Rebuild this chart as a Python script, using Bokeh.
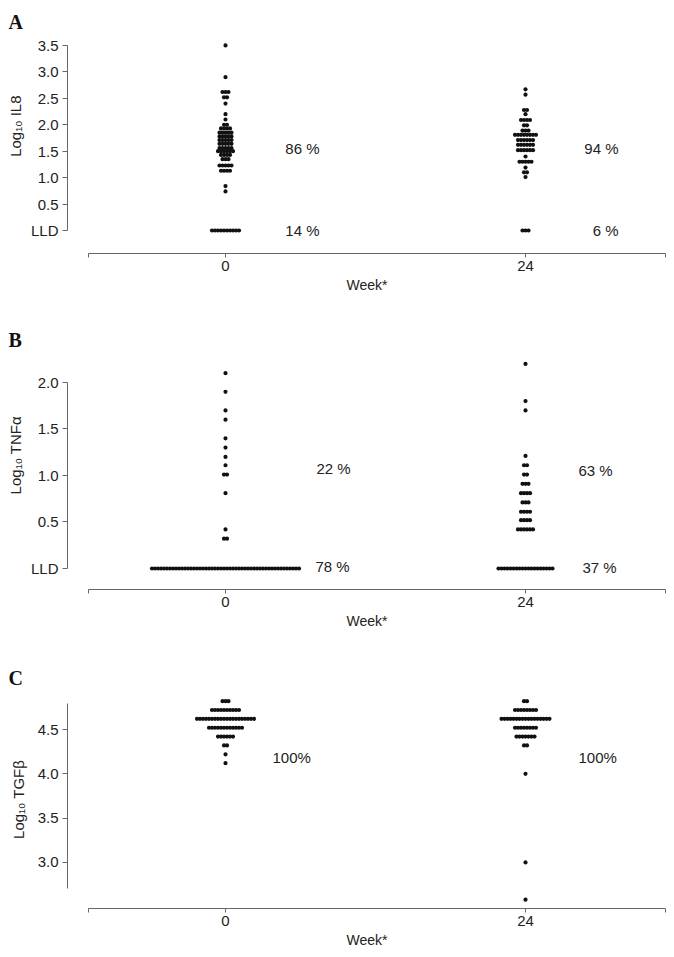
import numpy as np
from bokeh.plotting import figure
from bokeh.models import FixedTicker, Label, Range1d, PrintfTickFormatter
from bokeh.layouts import column
from bokeh.embed import file_html
from bokeh.resources import INLINE

# ---------------- data ----------------
weeks = [0, 24]
week_labels = ["0", "24"]

# Panel A : Log10 IL8 (value levels and number of patients at each level); 0 = LLD
il8_w0_values = [3.5, 2.9, 2.62, 2.52, 2.4, 2.2, 2.1, 2.0, 1.93, 1.85, 1.78, 1.71, 1.64,
                 1.56, 1.5, 1.43, 1.35, 1.23, 1.13, 0.84, 0.74, 0.0]
il8_w0_counts = [1, 1, 3, 2, 1, 1, 1, 2, 4, 5, 5, 5, 5, 5, 6, 4, 3, 5, 4, 1, 1, 10]
il8_w24_values = [2.67, 2.57, 2.28, 2.2, 2.09, 1.99, 1.89, 1.81, 1.71, 1.62, 1.52, 1.4,
                  1.3, 1.19, 1.1, 1.01, 0.0]
il8_w24_counts = [1, 1, 2, 1, 4, 2, 3, 8, 6, 6, 6, 1, 5, 1, 2, 1, 3]
il8_pct_w0 = ["86 %", "14 %"]
il8_pct_w24 = ["94 %", "6 %"]

# Panel B : Log10 TNFalpha
tnf_w0_values = [2.1, 1.9, 1.7, 1.6, 1.4, 1.3, 1.2, 1.11, 1.01, 0.81, 0.42, 0.32, 0.0]
tnf_w0_counts = [1, 1, 1, 1, 1, 1, 1, 1, 2, 1, 1, 2, 50]
tnf_w24_values = [2.2, 1.8, 1.7, 1.21, 1.11, 1.01, 0.91, 0.81, 0.71, 0.61, 0.52, 0.42, 0.0]
tnf_w24_counts = [1, 1, 1, 1, 2, 2, 3, 4, 3, 4, 4, 6, 19]
tnf_pct_w0 = ["22 %", "78 %"]
tnf_pct_w24 = ["63 %", "37 %"]

# Panel C : Log10 TGFbeta
tgf_w0_values = [4.82, 4.72, 4.62, 4.52, 4.42, 4.32, 4.22, 4.12]
tgf_w0_counts = [3, 10, 20, 12, 6, 2, 1, 1]
tgf_w24_values = [4.82, 4.72, 4.62, 4.52, 4.42, 4.32, 4.0, 3.0, 2.58]
tgf_w24_counts = [2, 8, 17, 8, 7, 2, 1, 1, 1]
tgf_pct_w0 = ["100%"]
tgf_pct_w24 = ["100%"]

# ---------------- layout constants ----------------
FONT = "Liberation Sans"
X_RANGE = (-12.64, 35.28)          # week axis frame span
X_BOUNDS = (-11.0, 35.2)
DOT_STEP = 0.24                    # horizontal step between dots (in week units)
FRAME_W = 599
LEFT = 67
PAD = "\u00a0"                     # padding used to nudge rotated axis labels


def swarm(center, values, counts):
    xs, ys = [], []
    for v, n in zip(values, counts):
        for i in range(n):
            xs.append(center + (i - (n - 1) / 2.0) * DOT_STEP)
            ys.append(v)
    return xs, ys


def make_panel(letter, title_standoff, ylab, ylab_standoff, y_range, y_bounds, y_ticks, y_over,
               groups, pct_texts, pct_pos, pct_align, top, fh, bottom):
    p = figure(frame_width=FRAME_W, frame_height=fh, min_border_left=LEFT, min_border_right=0,
               min_border_top=top, min_border_bottom=bottom, output_backend="svg",
               toolbar_location=None, x_range=Range1d(*X_RANGE), y_range=Range1d(*y_range))
    p.outline_line_color = None
    p.grid.visible = False
    p.background_fill_color = "white"
    p.border_fill_color = "white"

    # panel letter as title
    p.title.text = letter
    p.title.align = "left"
    p.title.offset = -LEFT + 8
    p.title.standoff = title_standoff
    p.title.text_font = "Liberation Serif"
    p.title.text_font_style = "bold"
    p.title.text_font_size = "20px"
    p.title.text_color = "#111111"

    for center, vals, cnts in groups:
        xs, ys = swarm(center, vals, cnts)
        p.scatter(xs, ys, size=4.2, color="#111111", line_width=0)

    # x axis
    xa = p.xaxis[0]
    xa.bounds = X_BOUNDS
    xa.ticker = FixedTicker(ticks=[X_BOUNDS[0]] + weeks + [X_BOUNDS[1]])
    over = {X_BOUNDS[0]: "", X_BOUNDS[1]: ""}
    for w, lab in zip(weeks, week_labels):
        over[w] = lab
    xa.major_label_overrides = over
    xa.axis_label = "Week*"
    xa.axis_label_text_font = FONT
    xa.axis_label_text_font_style = "normal"
    xa.axis_label_text_font_size = "14px"
    xa.axis_label_text_color = "#222222"
    xa.axis_label_standoff = 3
    xa.major_label_standoff = 3
    xa.major_label_text_font = FONT
    xa.major_label_text_font_size = "15px"
    xa.major_label_text_color = "#222222"
    xa.axis_line_color = "#666666"
    xa.major_tick_line_color = "#666666"
    xa.major_tick_out = 4
    xa.major_tick_in = 0
    xa.minor_tick_line_color = None

    # y axis
    ya = p.yaxis[0]
    ya.bounds = y_bounds
    ya.ticker = FixedTicker(ticks=y_ticks)
    ya.formatter = PrintfTickFormatter(format="%.1f")
    ya.major_label_overrides = y_over
    ya.major_label_text_font = FONT
    ya.major_label_text_font_size = "15px"
    ya.major_label_text_color = "#222222"
    ya.major_label_standoff = 4
    ya.axis_line_color = "#666666"
    ya.major_tick_line_color = "#666666"
    ya.major_tick_out = 5
    ya.major_tick_in = 0
    ya.minor_tick_line_color = None
    ya.axis_label = ylab
    ya.axis_label_text_font = FONT
    ya.axis_label_text_font_style = "normal"
    ya.axis_label_text_font_size = "15px"
    ya.axis_label_text_color = "#222222"
    ya.axis_label_standoff = ylab_standoff

    # percent labels
    for t, (px, py), al in zip(pct_texts, pct_pos, pct_align):
        p.add_layout(Label(x=px, y=py, text=t, text_font=FONT, text_font_size="15px",
                           text_color="#222222", text_align=al, text_baseline="middle"))
    return p


pA = make_panel(
    "A", 16, PAD * 10 + "Log\u2081\u2080 IL8", 4,
    (-0.435, 3.594), (0, 3.5), [0, 0.5, 1.0, 1.5, 2.0, 2.5, 3.0, 3.5], {0: "LLD"},
    [(weeks[0], il8_w0_values, il8_w0_counts), (weeks[1], il8_w24_values, il8_w24_counts)],
    il8_pct_w0 + il8_pct_w24, [(7.52, 1.55), (7.52, 0.0), (31.44, 1.55), (31.44, 0.0)],
    ["right", "right", "right", "right"], top=40, fh=213, bottom=65)

pB = make_panel(
    "B", 15, PAD * 9 + "Log\u2081\u2080 TNF\u03b1", 4,
    (-0.226, 2.258), (0, 2.0), [0, 0.5, 1.0, 1.5, 2.0], {0: "LLD"},
    [(weeks[0], tnf_w0_values, tnf_w0_counts), (weeks[1], tnf_w24_values, tnf_w24_counts)],
    tnf_pct_w0 + tnf_pct_w24, [(7.28, 1.07), (7.2, 0.02), (28.24, 1.055), (28.56, 0.01)],
    ["left", "left", "left", "left"], top=40, fh=231, bottom=59)

pC = make_panel(
    "C", 12, PAD * 1 + "Log\u2081\u2080 TGF\u03b2", 8,
    (2.480, 4.895), (2.705, 4.793), [3.0, 3.5, 4.0, 4.5], {},
    [(weeks[0], tgf_w0_values, tgf_w0_counts), (weeks[1], tgf_w24_values, tgf_w24_counts)],
    tgf_pct_w0 + tgf_pct_w24, [(3.76, 4.184), (28.24, 4.184)],
    ["left", "left"], top=46, fh=214, bottom=41)

layout = column(pA, pB, pC, spacing=0)
open("out.html", "w").write(file_html(layout, INLINE))
